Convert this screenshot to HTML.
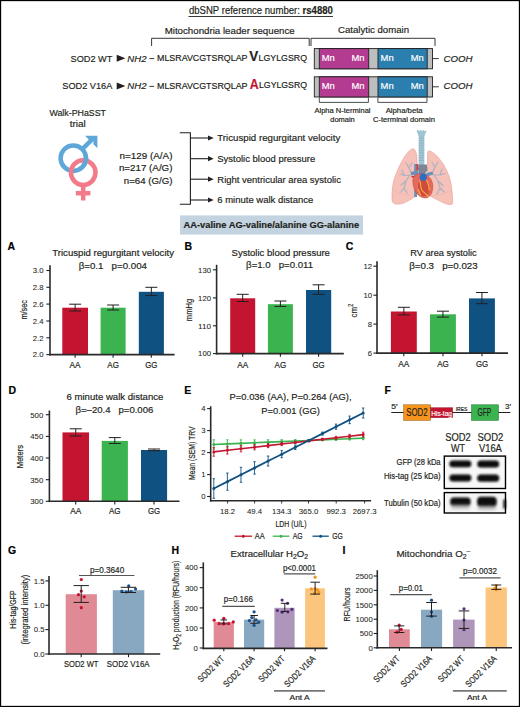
<!DOCTYPE html>
<html><head><meta charset="utf-8">
<style>
html,body{margin:0;padding:0;background:#fff;}
body{width:520px;height:707px;overflow:hidden;}
svg{display:block;font-family:"Liberation Sans",sans-serif;}
text{fill:#231f20;stroke:#231f20;stroke-width:0.18px;}
.b{font-weight:bold;}
</style></head><body>
<svg width="520" height="707" viewBox="0 0 520 707">
<rect x="0" y="0" width="520" height="707" fill="#fff"/>
<!-- ===== TOP: sequence ===== -->
<g id="top">
<text x="188.9" y="14.2" font-size="10" textLength="144" lengthAdjust="spacingAndGlyphs">dbSNP reference number: <tspan class="b">rs4880</tspan></text>
<line x1="188.5" y1="16.5" x2="333" y2="16.5" stroke="#231f20" stroke-width="0.9"/>
<text x="164.7" y="33.5" font-size="9.6" textLength="130" lengthAdjust="spacingAndGlyphs">Mitochondria leader sequence</text>
<text x="338" y="33.4" font-size="9.6" textLength="71" lengthAdjust="spacingAndGlyphs">Catalytic domain</text>
<path d="M151.6 46 V38.3 H309.2 V46 M311 46 V38.3 H435 V46" fill="none" stroke="#231f20" stroke-width="0.9"/>

<text x="70.6" y="61.5" font-size="9.5" textLength="41.7" lengthAdjust="spacingAndGlyphs">SOD2 WT</text>
<path d="M116.7 54.7 L125.4 58.25 L116.7 61.8Z" fill="#231f20"/>
<text x="127.3" y="61.5" font-size="9.5" font-style="italic" textLength="19.2" lengthAdjust="spacingAndGlyphs">NH2</text>
<line x1="149.4" y1="58.6" x2="154.2" y2="58.6" stroke="#231f20" stroke-width="0.9"/>
<text x="157" y="61" font-size="8.2" textLength="90.5" lengthAdjust="spacingAndGlyphs">MLSRAVCGTSRQLAP</text>
<text x="249.2" y="60.6" font-size="14" class="b" textLength="9" lengthAdjust="spacingAndGlyphs">V</text>
<text x="258.6" y="61" font-size="8.2" textLength="48.4" lengthAdjust="spacingAndGlyphs">LGYLGSRQ</text>

<text x="62.3" y="89.3" font-size="9.5" textLength="50" lengthAdjust="spacingAndGlyphs">SOD2 V16A</text>
<path d="M116.7 82.5 L125.4 86.05 L116.7 89.6Z" fill="#231f20"/>
<text x="127.3" y="89.3" font-size="9.5" font-style="italic" textLength="19.2" lengthAdjust="spacingAndGlyphs">NH2</text>
<line x1="149.4" y1="86.4" x2="154.2" y2="86.4" stroke="#231f20" stroke-width="0.9"/>
<text x="157" y="88.6" font-size="8.2" textLength="90.5" lengthAdjust="spacingAndGlyphs">MLSRAVCGTSRQLAP</text>
<text x="249.7" y="88.6" font-size="14" class="b" style="fill:#c41530;stroke:#c41530" textLength="9" lengthAdjust="spacingAndGlyphs">A</text>
<text x="259" y="88.4" font-size="8.2" textLength="48" lengthAdjust="spacingAndGlyphs">LGYLGSRQ</text>

<!-- domain boxes -->
<g id="dom1">
<rect x="314.3" y="48.6" width="118.2" height="20.2" fill="#bcbec0" stroke="#231f20" stroke-width="0.9"/>
<rect x="319.3" y="48.6" width="49.4" height="20.2" fill="#b43c90" stroke="#231f20" stroke-width="0.9"/>
<rect x="378" y="48.6" width="49.2" height="20.2" fill="#2a7fae" stroke="#231f20" stroke-width="0.9"/>
<text x="321.7" y="61.3" font-size="9.4" style="fill:#fff;stroke:#fff">Mn</text>
<text x="351.5" y="61.3" font-size="9.4" style="fill:#fff;stroke:#fff">Mn</text>
<text x="380.6" y="61.3" font-size="9.4" style="fill:#fff;stroke:#fff">Mn</text>
<text x="410.8" y="61.3" font-size="9.4" style="fill:#fff;stroke:#fff">Mn</text>
</g>
<use href="#dom1" y="28.2"/>
<line x1="432.5" y1="58.6" x2="438.8" y2="58.6" stroke="#231f20" stroke-width="0.9"/>
<line x1="432.5" y1="86.8" x2="438.8" y2="86.8" stroke="#231f20" stroke-width="0.9"/>
<text x="443.6" y="61.7" font-size="9.5" font-style="italic" textLength="29" lengthAdjust="spacingAndGlyphs">COOH</text>
<text x="443.6" y="89.3" font-size="9.5" font-style="italic" textLength="29" lengthAdjust="spacingAndGlyphs">COOH</text>
<path d="M319.3 98 V102.4 H368.4 V98 M377.9 98 V102.4 H427 V98" fill="none" stroke="#231f20" stroke-width="0.8"/>
<text x="314.50" y="113.2" font-size="7" textLength="56" lengthAdjust="spacingAndGlyphs">Alpha N-terminal</text>
<text x="330.25" y="121.6" font-size="7" textLength="24.5" lengthAdjust="spacingAndGlyphs">domain</text>
<text x="385.70" y="113.2" font-size="7" textLength="37" lengthAdjust="spacingAndGlyphs">Alpha/beta</text>
<text x="373.00" y="121.6" font-size="7" textLength="62" lengthAdjust="spacingAndGlyphs">C-terminal domain</text>
</g>
<!-- ===== MIDDLE: trial ===== -->
<g id="mid">
<text x="49.45" y="115.6" font-size="9.5" textLength="56.5" lengthAdjust="spacingAndGlyphs">Walk-PHaSST</text>
<text x="69.80" y="126.8" font-size="9.5" textLength="16" lengthAdjust="spacingAndGlyphs">trial</text>
<!-- male -->
<g stroke="#5ea7d8" fill="none" stroke-width="4.5">
<circle cx="73.3" cy="158.2" r="12.7"/>
<line x1="82.3" y1="149.2" x2="94" y2="137.5"/>
</g>
<path d="M85 135.8 H97.4 V148.2 L93.4 144.2 L93.4 139.8 L89 139.8Z" fill="#5ea7d8"/>
<!-- female -->
<g stroke="#f27a89" fill="none" stroke-width="4.5">
<circle cx="83.2" cy="172.6" r="12.3"/>
<line x1="83.2" y1="185" x2="83.2" y2="200.5"/>
<line x1="75.8" y1="193.2" x2="90.4" y2="193.2"/>
</g>
<path d="M85.88 156.43 A12.7 12.7 0 0 1 84.07 164.93" fill="none" stroke="#5ea7d8" stroke-width="4.5"/>
<text font-size="9">
<tspan x="119.50" y="158.7" textLength="53" lengthAdjust="spacingAndGlyphs">n=129 (A/A)</tspan>
<tspan x="118.90" y="171.4" textLength="53.6" lengthAdjust="spacingAndGlyphs">n=217 (A/G)</tspan>
<tspan x="123.80" y="183.9" textLength="48.7" lengthAdjust="spacingAndGlyphs">n=64 (G/G)</tspan>
</text>
<path d="M179.8 132.7 H190.4 V204.2 H179.8" fill="none" stroke="#231f20" stroke-width="1.1"/>
<g stroke="#231f20" stroke-width="1.1">
<line x1="190.4" y1="138" x2="209" y2="138"/>
<line x1="190.4" y1="158.7" x2="209" y2="158.7"/>
<line x1="190.4" y1="179.2" x2="209" y2="179.2"/>
<line x1="190.4" y1="200" x2="209" y2="200"/>
</g>
<g fill="#231f20">
<path d="M208 135.4 L213.7 138 L208 140.6Z"/>
<path d="M208 156.1 L213.7 158.7 L208 161.3Z"/>
<path d="M208 176.6 L213.7 179.2 L208 181.8Z"/>
<path d="M208 197.4 L213.7 200 L208 202.6Z"/>
</g>
<text font-size="9.5">
<tspan x="217.3" y="141.3" textLength="123" lengthAdjust="spacingAndGlyphs">Tricuspid regurgitant velocity</tspan>
<tspan x="217.3" y="162" textLength="98" lengthAdjust="spacingAndGlyphs">Systolic blood pressure</tspan>
<tspan x="217.3" y="182.5" textLength="123.6" lengthAdjust="spacingAndGlyphs">Right ventricular area systolic</tspan>
<tspan x="217.3" y="202.5" textLength="96" lengthAdjust="spacingAndGlyphs">6 minute walk distance</tspan>
</text>
<rect x="180" y="215.4" width="183" height="19.2" fill="#c3d4e0"/>
<text x="183.5" y="228.2" font-size="9" class="b" textLength="175.7" lengthAdjust="spacingAndGlyphs">AA-valine AG-valine/alanine GG-alanine</text>
</g>

<!-- lungs -->
<g id="lungs">
<path d="M412.2 148.9 C409 150 404.5 156 400.5 164 C396.5 172 393.3 180 392.6 187 C392 193 391.8 198 392.2 201 C393 204 397 204.6 401 203.8 C405.5 202.8 410 200 414.9 196.6 L417 194 L417 160 C417 154 415.5 148.2 412.2 148.9Z" fill="#f5c1b8" stroke="#e8a39b" stroke-width="0.7"/>
<path d="M428.4 150.9 C432 150.5 438 156 443.5 164.5 C448 172 450.8 180 451.6 188 C452.4 195 452.8 200 452.5 203.5 C451.5 205.5 447 204.5 443 202.5 C438.5 200.5 434 198 431 196.6 L427.6 194 L427.6 160 C427.6 155 427.5 151 428.4 150.9Z" fill="#f5c1b8" stroke="#e8a39b" stroke-width="0.7"/>
<path d="M393 190 C398 193 404 195 410 195.5 M451.5 190 C446 193 440 195 434 195.5" stroke="#eab0a8" stroke-width="0.5" fill="none"/>
<g stroke="#aab3c3" stroke-width="1.2" fill="none" stroke-linecap="round" stroke-linejoin="round">
<path d="M416 173 L410 175 L404 175.5 L400 174 M410 175 L406 181 L401 185 M406 181 L404 188 L401 192 M404 188 L407 193 M412 174 L409 168 L406 163 M409 168 L412 163 M404 175.5 L402 170"/>
<path d="M428.5 173 L434 175 L440 175 L445 173.5 M434 175 L438 181 L443 185.5 M438 181 L440 188 L444 192 M440 188 L437 194 M432 174 L435 167 L438 162 M435 167 L432 162.5 M440 175 L442 169"/>
</g>
<path d="M416.5 130.7 L418 129.8 L419 131.2 L420.6 129.8 L422 131.2 L423.4 129.8 L425 131.2 L426.8 130.2 L424.4 136 L418.7 136Z" fill="#9fc4d2"/>
<rect x="418.7" y="134" width="5.6" height="33" fill="#9fc4d2"/>
<g stroke="#86afc0" stroke-width="0.6">
<line x1="418.7" y1="138" x2="424.3" y2="138"/><line x1="418.7" y1="140.5" x2="424.3" y2="140.5"/><line x1="418.7" y1="143" x2="424.3" y2="143"/>
<line x1="418.7" y1="145.5" x2="424.3" y2="145.5"/><line x1="418.7" y1="148" x2="424.3" y2="148"/><line x1="418.7" y1="150.5" x2="424.3" y2="150.5"/>
<line x1="418.7" y1="153" x2="424.3" y2="153"/><line x1="418.7" y1="155.5" x2="424.3" y2="155.5"/><line x1="418.7" y1="158" x2="424.3" y2="158"/><line x1="418.7" y1="160.5" x2="424.3" y2="160.5"/>
</g>
<rect x="414.2" y="164" width="2.8" height="33" fill="#6e8fb8"/>
<path d="M418.5 164.5 L426.8 164.5 L427.5 170 L425 174.5 L419 174.5 L418 169Z" fill="#7d8594"/>
<path d="M410.5 172 L418 170.5 L419 174 L411.5 175.5Z" fill="#6e8fb8"/>
<path d="M425.5 173.5 L432.5 171.5 L433 174.5 L427 176.5Z" fill="#6e8fb8"/>
<rect x="416.6" y="164" width="1.6" height="6.5" fill="#d8353a"/>
<rect x="411.5" y="176" width="3" height="1.6" fill="#d8353a"/>
<path d="M413 183 C412 177 415.5 173.5 420 174 C425 173.5 431.5 176.5 432.6 184 C433.5 190 431 197.8 426 198 C420 198.3 414 193 413 183Z" fill="#e36a5c" stroke="#c43d33" stroke-width="0.5"/>
<path d="M418 186 C418 181 421 179.5 425 180.5 C429 181.5 430.5 186.5 429.5 191 C428.5 195 425.5 196.8 422.5 196 C419.5 195 418 191 418 186Z" fill="#d24a3e"/>
<path d="M419.5 180.5 C421.5 184 420 188 422 190.5 C424 193 427 194 428.5 197 M426.5 180 C428 184 430 186.5 429 190.5 M418 189 C419.5 191 419 193.5 421 195" stroke="#f0b43c" stroke-width="1.1" fill="none"/>
<ellipse cx="423.3" cy="177.3" rx="3.6" ry="3.8" fill="#2f6dc2"/>
</g>
<!--CHARTS-->
<text x="7.6" y="250.3" font-size="10.5" font-weight="bold" style="fill:#000;stroke:#000">A</text>
<text x="52.3" y="255.6" font-size="9.2" textLength="121.7" lengthAdjust="spacingAndGlyphs">Tricuspid regurgitant velocity</text>
<text x="78.7" y="268.6" font-size="9.2" textLength="68.3" lengthAdjust="spacingAndGlyphs">β=0.1 &#160; p=0.004</text>
<line x1="50" y1="265.3" x2="50" y2="355.40000000000003" stroke="#2a2a2a" stroke-width="1.6"/>
<line x1="46.4" y1="270.5" x2="50" y2="270.5" stroke="#231f20" stroke-width="1.1"/>
<text x="32.8" y="273.3" font-size="8.0" textLength="10.8" lengthAdjust="spacingAndGlyphs" style="stroke-width:0.06px">3.0</text>
<line x1="46.4" y1="287.3" x2="50" y2="287.3" stroke="#231f20" stroke-width="1.1"/>
<text x="32.8" y="290.1" font-size="8.0" textLength="10.8" lengthAdjust="spacingAndGlyphs" style="stroke-width:0.06px">2.8</text>
<line x1="46.4" y1="304.1" x2="50" y2="304.1" stroke="#231f20" stroke-width="1.1"/>
<text x="32.8" y="306.90000000000003" font-size="8.0" textLength="10.8" lengthAdjust="spacingAndGlyphs" style="stroke-width:0.06px">2.6</text>
<line x1="46.4" y1="321.0" x2="50" y2="321.0" stroke="#231f20" stroke-width="1.1"/>
<text x="32.8" y="323.8" font-size="8.0" textLength="10.8" lengthAdjust="spacingAndGlyphs" style="stroke-width:0.06px">2.4</text>
<line x1="46.4" y1="337.8" x2="50" y2="337.8" stroke="#231f20" stroke-width="1.1"/>
<text x="32.8" y="340.6" font-size="8.0" textLength="10.8" lengthAdjust="spacingAndGlyphs" style="stroke-width:0.06px">2.2</text>
<line x1="46.4" y1="354.6" x2="50" y2="354.6" stroke="#231f20" stroke-width="1.1"/>
<text x="32.8" y="357.40000000000003" font-size="8.0" textLength="10.8" lengthAdjust="spacingAndGlyphs" style="stroke-width:0.06px">2.0</text>
<rect x="62.30" y="307.70" width="25.70" height="46.90" fill="#c41530"/>
<line x1="75.15" y1="304.2" x2="75.15" y2="311" stroke="#231f20" stroke-width="1.0"/>
<line x1="69.15" y1="304.2" x2="81.15" y2="304.2" stroke="#231f20" stroke-width="1.0"/>
<line x1="69.15" y1="311" x2="81.15" y2="311" stroke="#231f20" stroke-width="1.0"/>
<rect x="100.60" y="307.70" width="25.00" height="46.90" fill="#3bb44f"/>
<line x1="113.1" y1="305" x2="113.1" y2="310" stroke="#231f20" stroke-width="1.0"/>
<line x1="107.1" y1="305" x2="119.1" y2="305" stroke="#231f20" stroke-width="1.0"/>
<line x1="107.1" y1="310" x2="119.1" y2="310" stroke="#231f20" stroke-width="1.0"/>
<rect x="138.80" y="291.80" width="25.10" height="62.80" fill="#0f5282"/>
<line x1="151.35000000000002" y1="287.3" x2="151.35000000000002" y2="295.6" stroke="#231f20" stroke-width="1.0"/>
<line x1="145.35000000000002" y1="287.3" x2="157.35000000000002" y2="287.3" stroke="#231f20" stroke-width="1.0"/>
<line x1="145.35000000000002" y1="295.6" x2="157.35000000000002" y2="295.6" stroke="#231f20" stroke-width="1.0"/>
<line x1="49.2" y1="354.6" x2="174.6" y2="354.6" stroke="#2a2a2a" stroke-width="1.6"/>
<line x1="75.1" y1="354.6" x2="75.1" y2="357.8" stroke="#231f20" stroke-width="1.1"/>
<text x="69.6" y="367.6" font-size="8.5" textLength="11" lengthAdjust="spacingAndGlyphs">AA</text>
<line x1="113.1" y1="354.6" x2="113.1" y2="357.8" stroke="#231f20" stroke-width="1.1"/>
<text x="107.3" y="367.6" font-size="8.5" textLength="11.6" lengthAdjust="spacingAndGlyphs">AG</text>
<line x1="151.3" y1="354.6" x2="151.3" y2="357.8" stroke="#231f20" stroke-width="1.1"/>
<text x="145.2" y="367.6" font-size="8.5" textLength="12.2" lengthAdjust="spacingAndGlyphs">GG</text>
<text x="17.6" y="309.8" font-size="9.6" textLength="19.6" lengthAdjust="spacingAndGlyphs" transform="rotate(-90 27.4 309.8)">m/sec</text>
<text x="184.5" y="250.3" font-size="10.5" font-weight="bold" style="fill:#000;stroke:#000">B</text>
<text x="231.6" y="256" font-size="9.2" textLength="98.3" lengthAdjust="spacingAndGlyphs">Systolic blood pressure</text>
<text x="246.1" y="268.2" font-size="9.2" textLength="67" lengthAdjust="spacingAndGlyphs">β=1.0 &#160; p=0.011</text>
<line x1="216.6" y1="264.8" x2="216.6" y2="354.40000000000003" stroke="#2a2a2a" stroke-width="1.6"/>
<line x1="213.0" y1="269.8" x2="216.6" y2="269.8" stroke="#231f20" stroke-width="1.1"/>
<text x="198.1" y="272.6" font-size="8.0" textLength="12.9" lengthAdjust="spacingAndGlyphs" style="stroke-width:0.06px">130</text>
<line x1="213.0" y1="297.9" x2="216.6" y2="297.9" stroke="#231f20" stroke-width="1.1"/>
<text x="198.1" y="300.7" font-size="8.0" textLength="12.9" lengthAdjust="spacingAndGlyphs" style="stroke-width:0.06px">120</text>
<line x1="213.0" y1="325.8" x2="216.6" y2="325.8" stroke="#231f20" stroke-width="1.1"/>
<text x="198.1" y="328.6" font-size="8.0" textLength="12.9" lengthAdjust="spacingAndGlyphs" style="stroke-width:0.06px">110</text>
<line x1="213.0" y1="353.6" x2="216.6" y2="353.6" stroke="#231f20" stroke-width="1.1"/>
<text x="198.1" y="356.40000000000003" font-size="8.0" textLength="12.9" lengthAdjust="spacingAndGlyphs" style="stroke-width:0.06px">100</text>
<rect x="230.20" y="298.30" width="25.00" height="55.30" fill="#c41530"/>
<line x1="242.7" y1="294.3" x2="242.7" y2="301.5" stroke="#231f20" stroke-width="1.0"/>
<line x1="236.7" y1="294.3" x2="248.7" y2="294.3" stroke="#231f20" stroke-width="1.0"/>
<line x1="236.7" y1="301.5" x2="248.7" y2="301.5" stroke="#231f20" stroke-width="1.0"/>
<rect x="267.90" y="304.20" width="25.00" height="49.40" fill="#3bb44f"/>
<line x1="280.4" y1="301.0" x2="280.4" y2="306.4" stroke="#231f20" stroke-width="1.0"/>
<line x1="274.4" y1="301.0" x2="286.4" y2="301.0" stroke="#231f20" stroke-width="1.0"/>
<line x1="274.4" y1="306.4" x2="286.4" y2="306.4" stroke="#231f20" stroke-width="1.0"/>
<rect x="306.00" y="290.00" width="25.20" height="63.60" fill="#0f5282"/>
<line x1="318.6" y1="284.8" x2="318.6" y2="294.3" stroke="#231f20" stroke-width="1.0"/>
<line x1="312.6" y1="284.8" x2="324.6" y2="284.8" stroke="#231f20" stroke-width="1.0"/>
<line x1="312.6" y1="294.3" x2="324.6" y2="294.3" stroke="#231f20" stroke-width="1.0"/>
<line x1="215.79999999999998" y1="353.6" x2="343.8" y2="353.6" stroke="#2a2a2a" stroke-width="1.6"/>
<line x1="242.7" y1="353.6" x2="242.7" y2="356.8" stroke="#231f20" stroke-width="1.1"/>
<text x="237.2" y="367.6" font-size="8.5" textLength="11" lengthAdjust="spacingAndGlyphs">AA</text>
<line x1="280.4" y1="353.6" x2="280.4" y2="356.8" stroke="#231f20" stroke-width="1.1"/>
<text x="274.6" y="367.6" font-size="8.5" textLength="11.6" lengthAdjust="spacingAndGlyphs">AG</text>
<line x1="318.6" y1="353.6" x2="318.6" y2="356.8" stroke="#231f20" stroke-width="1.1"/>
<text x="312.5" y="367.6" font-size="8.5" textLength="12.2" lengthAdjust="spacingAndGlyphs">GG</text>
<text x="181.1" y="310" font-size="9.6" textLength="22.4" lengthAdjust="spacingAndGlyphs" transform="rotate(-90 192.3 310)">mmHg</text>
<text x="345.8" y="250.3" font-size="10.5" font-weight="bold" style="fill:#000;stroke:#000">C</text>
<text x="410.3" y="256" font-size="9.2" textLength="66.4" lengthAdjust="spacingAndGlyphs">RV area systolic</text>
<text x="409.2" y="268.8" font-size="9.2" textLength="68.5" lengthAdjust="spacingAndGlyphs">β=0.3 &#160; p=0.023</text>
<line x1="377" y1="261.3" x2="377" y2="353.90000000000003" stroke="#2a2a2a" stroke-width="1.6"/>
<line x1="373.4" y1="266.2" x2="377" y2="266.2" stroke="#231f20" stroke-width="1.1"/>
<text x="363.4" y="269.0" font-size="8.0" textLength="8.6" lengthAdjust="spacingAndGlyphs" style="stroke-width:0.06px">12</text>
<line x1="373.4" y1="295.2" x2="377" y2="295.2" stroke="#231f20" stroke-width="1.1"/>
<text x="363.4" y="298.0" font-size="8.0" textLength="8.6" lengthAdjust="spacingAndGlyphs" style="stroke-width:0.06px">10</text>
<line x1="373.4" y1="324.1" x2="377" y2="324.1" stroke="#231f20" stroke-width="1.1"/>
<text x="367.7" y="326.90000000000003" font-size="8.0" textLength="4.3" lengthAdjust="spacingAndGlyphs" style="stroke-width:0.06px">8</text>
<line x1="373.4" y1="353.1" x2="377" y2="353.1" stroke="#231f20" stroke-width="1.1"/>
<text x="367.7" y="355.90000000000003" font-size="8.0" textLength="4.3" lengthAdjust="spacingAndGlyphs" style="stroke-width:0.06px">6</text>
<rect x="390.90" y="311.50" width="25.90" height="41.60" fill="#c41530"/>
<line x1="403.85" y1="307.3" x2="403.85" y2="314.9" stroke="#231f20" stroke-width="1.0"/>
<line x1="397.85" y1="307.3" x2="409.85" y2="307.3" stroke="#231f20" stroke-width="1.0"/>
<line x1="397.85" y1="314.9" x2="409.85" y2="314.9" stroke="#231f20" stroke-width="1.0"/>
<rect x="430.00" y="314.30" width="25.90" height="38.80" fill="#3bb44f"/>
<line x1="442.95" y1="311.2" x2="442.95" y2="317.1" stroke="#231f20" stroke-width="1.0"/>
<line x1="436.95" y1="311.2" x2="448.95" y2="311.2" stroke="#231f20" stroke-width="1.0"/>
<line x1="436.95" y1="317.1" x2="448.95" y2="317.1" stroke="#231f20" stroke-width="1.0"/>
<rect x="469.00" y="298.40" width="25.90" height="54.70" fill="#0f5282"/>
<line x1="481.95" y1="292.5" x2="481.95" y2="303.7" stroke="#231f20" stroke-width="1.0"/>
<line x1="475.95" y1="292.5" x2="487.95" y2="292.5" stroke="#231f20" stroke-width="1.0"/>
<line x1="475.95" y1="303.7" x2="487.95" y2="303.7" stroke="#231f20" stroke-width="1.0"/>
<line x1="376.2" y1="353.1" x2="508" y2="353.1" stroke="#2a2a2a" stroke-width="1.6"/>
<line x1="403.8" y1="353.1" x2="403.8" y2="356.3" stroke="#231f20" stroke-width="1.1"/>
<text x="398.3" y="367.3" font-size="8.5" textLength="11" lengthAdjust="spacingAndGlyphs">AA</text>
<line x1="443" y1="353.1" x2="443" y2="356.3" stroke="#231f20" stroke-width="1.1"/>
<text x="437.2" y="367.3" font-size="8.5" textLength="11.6" lengthAdjust="spacingAndGlyphs">AG</text>
<line x1="482" y1="353.1" x2="482" y2="356.3" stroke="#231f20" stroke-width="1.1"/>
<text x="475.9" y="367.3" font-size="8.5" textLength="12.2" lengthAdjust="spacingAndGlyphs">GG</text>
<text x="350.4" y="310.6" font-size="9.6" textLength="13.6" lengthAdjust="spacingAndGlyphs" transform="rotate(-90 357.2 310.6)">cm<tspan font-size="6.5" dy="-4.5">2</tspan></text>
<text x="8.5" y="394.2" font-size="10.5" font-weight="bold" style="fill:#000;stroke:#000">D</text>
<text x="66.5" y="400" font-size="9.2" textLength="96.9" lengthAdjust="spacingAndGlyphs">6 minute walk distance</text>
<text x="75.5" y="413" font-size="9.2" textLength="77.8" lengthAdjust="spacingAndGlyphs">β=–20.4 &#160; p=0.006</text>
<line x1="49.4" y1="410.5" x2="49.4" y2="502.1" stroke="#2a2a2a" stroke-width="1.6"/>
<line x1="45.8" y1="414.7" x2="49.4" y2="414.7" stroke="#231f20" stroke-width="1.1"/>
<text x="30.3" y="417.5" font-size="8.0" textLength="12.9" lengthAdjust="spacingAndGlyphs" style="stroke-width:0.06px">500</text>
<line x1="45.8" y1="436.4" x2="49.4" y2="436.4" stroke="#231f20" stroke-width="1.1"/>
<text x="30.3" y="439.2" font-size="8.0" textLength="12.9" lengthAdjust="spacingAndGlyphs" style="stroke-width:0.06px">450</text>
<line x1="45.8" y1="458.0" x2="49.4" y2="458.0" stroke="#231f20" stroke-width="1.1"/>
<text x="30.3" y="460.8" font-size="8.0" textLength="12.9" lengthAdjust="spacingAndGlyphs" style="stroke-width:0.06px">400</text>
<line x1="45.8" y1="479.7" x2="49.4" y2="479.7" stroke="#231f20" stroke-width="1.1"/>
<text x="30.3" y="482.5" font-size="8.0" textLength="12.9" lengthAdjust="spacingAndGlyphs" style="stroke-width:0.06px">350</text>
<line x1="45.8" y1="501.3" x2="49.4" y2="501.3" stroke="#231f20" stroke-width="1.1"/>
<text x="30.3" y="504.1" font-size="8.0" textLength="12.9" lengthAdjust="spacingAndGlyphs" style="stroke-width:0.06px">300</text>
<rect x="62.50" y="432.40" width="26.50" height="68.90" fill="#c41530"/>
<line x1="75.75" y1="428.8" x2="75.75" y2="436" stroke="#231f20" stroke-width="1.0"/>
<line x1="69.75" y1="428.8" x2="81.75" y2="428.8" stroke="#231f20" stroke-width="1.0"/>
<line x1="69.75" y1="436" x2="81.75" y2="436" stroke="#231f20" stroke-width="1.0"/>
<rect x="101.70" y="440.90" width="26.20" height="60.40" fill="#3bb44f"/>
<line x1="114.80000000000001" y1="437.6" x2="114.80000000000001" y2="443.5" stroke="#231f20" stroke-width="1.0"/>
<line x1="108.80000000000001" y1="437.6" x2="120.80000000000001" y2="437.6" stroke="#231f20" stroke-width="1.0"/>
<line x1="108.80000000000001" y1="443.5" x2="120.80000000000001" y2="443.5" stroke="#231f20" stroke-width="1.0"/>
<rect x="141.00" y="450.00" width="26.10" height="51.30" fill="#0f5282"/>
<line x1="154.05" y1="449" x2="154.05" y2="450.7" stroke="#231f20" stroke-width="1.0"/>
<line x1="148.05" y1="449" x2="160.05" y2="449" stroke="#231f20" stroke-width="1.0"/>
<line x1="148.05" y1="450.7" x2="160.05" y2="450.7" stroke="#231f20" stroke-width="1.0"/>
<line x1="48.6" y1="501.3" x2="179.5" y2="501.3" stroke="#2a2a2a" stroke-width="1.6"/>
<line x1="75.7" y1="501.3" x2="75.7" y2="504.5" stroke="#231f20" stroke-width="1.1"/>
<text x="70.2" y="513.8" font-size="8.5" textLength="11" lengthAdjust="spacingAndGlyphs">AA</text>
<line x1="114.8" y1="501.3" x2="114.8" y2="504.5" stroke="#231f20" stroke-width="1.1"/>
<text x="109.0" y="513.8" font-size="8.5" textLength="11.6" lengthAdjust="spacingAndGlyphs">AG</text>
<line x1="154" y1="501.3" x2="154" y2="504.5" stroke="#231f20" stroke-width="1.1"/>
<text x="147.9" y="513.8" font-size="8.5" textLength="12.2" lengthAdjust="spacingAndGlyphs">GG</text>
<text x="11.55" y="456.6" font-size="9.6" textLength="23.1" lengthAdjust="spacingAndGlyphs" transform="rotate(-90 23.1 456.6)">Meters</text>
<g id="E">
<text x="184.3" y="393.9" font-size="10.5" font-weight="bold" style="fill:#000;stroke:#000">E</text>
<text x="229.6" y="400.1" font-size="9.2" textLength="122" lengthAdjust="spacingAndGlyphs">P=0.036 (AA), P=0.264 (AG),</text>
<text x="261.3" y="414.3" font-size="9.2" textLength="58.6" lengthAdjust="spacingAndGlyphs">P=0.001 (GG)</text>
<line x1="210.7" y1="406.3" x2="210.7" y2="501.5" stroke="#2a2a2a" stroke-width="1.6"/>
<line x1="207.1" y1="408.6" x2="210.7" y2="408.6" stroke="#231f20" stroke-width="1.1"/>
<text x="201.3" y="411.40000000000003" font-size="8.0" textLength="4.3" lengthAdjust="spacingAndGlyphs" style="stroke-width:0.06px">4</text>
<line x1="207.1" y1="430.6" x2="210.7" y2="430.6" stroke="#231f20" stroke-width="1.1"/>
<text x="201.3" y="433.40000000000003" font-size="8.0" textLength="4.3" lengthAdjust="spacingAndGlyphs" style="stroke-width:0.06px">3</text>
<line x1="207.1" y1="452.6" x2="210.7" y2="452.6" stroke="#231f20" stroke-width="1.1"/>
<text x="201.3" y="455.40000000000003" font-size="8.0" textLength="4.3" lengthAdjust="spacingAndGlyphs" style="stroke-width:0.06px">2</text>
<line x1="207.1" y1="474.6" x2="210.7" y2="474.6" stroke="#231f20" stroke-width="1.1"/>
<text x="201.3" y="477.40000000000003" font-size="8.0" textLength="4.3" lengthAdjust="spacingAndGlyphs" style="stroke-width:0.06px">1</text>
<line x1="207.1" y1="496.5" x2="210.7" y2="496.5" stroke="#231f20" stroke-width="1.1"/>
<text x="201.3" y="499.3" font-size="8.0" textLength="4.3" lengthAdjust="spacingAndGlyphs" style="stroke-width:0.06px">0</text>
<line x1="209.89999999999998" y1="500.7" x2="371.1" y2="500.7" stroke="#2a2a2a" stroke-width="1.6"/>
<line x1="227.6" y1="500.7" x2="227.6" y2="503.5" stroke="#231f20" stroke-width="0.9"/>
<text x="220.05" y="513.9" font-size="8.0" textLength="15.1" lengthAdjust="spacingAndGlyphs" style="stroke-width:0.06px">18.2</text>
<line x1="254.6" y1="500.7" x2="254.6" y2="503.5" stroke="#231f20" stroke-width="0.9"/>
<text x="247.05" y="513.9" font-size="8.0" textLength="15.1" lengthAdjust="spacingAndGlyphs" style="stroke-width:0.06px">49.4</text>
<line x1="281.7" y1="500.7" x2="281.7" y2="503.5" stroke="#231f20" stroke-width="0.9"/>
<text x="272.0" y="513.9" font-size="8.0" textLength="19.4" lengthAdjust="spacingAndGlyphs" style="stroke-width:0.06px">134.3</text>
<line x1="308.5" y1="500.7" x2="308.5" y2="503.5" stroke="#231f20" stroke-width="0.9"/>
<text x="298.8" y="513.9" font-size="8.0" textLength="19.4" lengthAdjust="spacingAndGlyphs" style="stroke-width:0.06px">365.0</text>
<line x1="336.2" y1="500.7" x2="336.2" y2="503.5" stroke="#231f20" stroke-width="0.9"/>
<text x="326.5" y="513.9" font-size="8.0" textLength="19.4" lengthAdjust="spacingAndGlyphs" style="stroke-width:0.06px">992.3</text>
<line x1="364.6" y1="500.7" x2="364.6" y2="503.5" stroke="#231f20" stroke-width="0.9"/>
<text x="352.75" y="513.9" font-size="8.0" textLength="23.7" lengthAdjust="spacingAndGlyphs" style="stroke-width:0.06px">2697.3</text>
<text x="275.5" y="526.6" font-size="8.8" textLength="31" lengthAdjust="spacingAndGlyphs">LDH (U/L)</text>
<text x="168.15" y="453.2" font-size="9.8" textLength="53.5" lengthAdjust="spacingAndGlyphs" transform="rotate(-90 194.9 453.2)">Mean (SEM) TRV</text>
<polyline points="213.80,444.50 227.38,443.92 240.96,443.34 254.54,442.75 268.12,442.17 281.70,441.59 295.28,441.01 308.86,440.43 322.44,439.85 336.02,439.26 349.60,438.68 363.18,438.10" fill="none" stroke="#3bb44f" stroke-width="1.6"/>
<line x1="213.8" y1="439.8" x2="213.8" y2="449.2" stroke="#3bb44f" stroke-width="0.9"/>
<line x1="212.60000000000002" y1="439.8" x2="215.0" y2="439.8" stroke="#3bb44f" stroke-width="0.9"/>
<line x1="212.60000000000002" y1="449.2" x2="215.0" y2="449.2" stroke="#3bb44f" stroke-width="0.9"/>
<circle cx="213.80" cy="444.50" r="1.5" fill="#3bb44f"/>
<line x1="227.38000000000002" y1="439.8181818181818" x2="227.38000000000002" y2="448.01818181818186" stroke="#3bb44f" stroke-width="0.9"/>
<line x1="226.18000000000004" y1="439.8181818181818" x2="228.58" y2="439.8181818181818" stroke="#3bb44f" stroke-width="0.9"/>
<line x1="226.18000000000004" y1="448.01818181818186" x2="228.58" y2="448.01818181818186" stroke="#3bb44f" stroke-width="0.9"/>
<circle cx="227.38" cy="443.92" r="1.5" fill="#3bb44f"/>
<line x1="240.96" y1="439.8363636363636" x2="240.96" y2="446.8363636363636" stroke="#3bb44f" stroke-width="0.9"/>
<line x1="239.76000000000002" y1="439.8363636363636" x2="242.16" y2="439.8363636363636" stroke="#3bb44f" stroke-width="0.9"/>
<line x1="239.76000000000002" y1="446.8363636363636" x2="242.16" y2="446.8363636363636" stroke="#3bb44f" stroke-width="0.9"/>
<circle cx="240.96" cy="443.34" r="1.5" fill="#3bb44f"/>
<line x1="254.54000000000002" y1="439.8545454545455" x2="254.54000000000002" y2="445.6545454545454" stroke="#3bb44f" stroke-width="0.9"/>
<line x1="253.34000000000003" y1="439.8545454545455" x2="255.74" y2="439.8545454545455" stroke="#3bb44f" stroke-width="0.9"/>
<line x1="253.34000000000003" y1="445.6545454545454" x2="255.74" y2="445.6545454545454" stroke="#3bb44f" stroke-width="0.9"/>
<circle cx="254.54" cy="442.75" r="1.5" fill="#3bb44f"/>
<line x1="268.12" y1="439.7727272727273" x2="268.12" y2="444.57272727272726" stroke="#3bb44f" stroke-width="0.9"/>
<line x1="266.92" y1="439.7727272727273" x2="269.32" y2="439.7727272727273" stroke="#3bb44f" stroke-width="0.9"/>
<line x1="266.92" y1="444.57272727272726" x2="269.32" y2="444.57272727272726" stroke="#3bb44f" stroke-width="0.9"/>
<circle cx="268.12" cy="442.17" r="1.5" fill="#3bb44f"/>
<line x1="281.70000000000005" y1="439.69090909090914" x2="281.70000000000005" y2="443.4909090909091" stroke="#3bb44f" stroke-width="0.9"/>
<line x1="280.50000000000006" y1="439.69090909090914" x2="282.90000000000003" y2="439.69090909090914" stroke="#3bb44f" stroke-width="0.9"/>
<line x1="280.50000000000006" y1="443.4909090909091" x2="282.90000000000003" y2="443.4909090909091" stroke="#3bb44f" stroke-width="0.9"/>
<circle cx="281.70" cy="441.59" r="1.5" fill="#3bb44f"/>
<line x1="295.28000000000003" y1="439.6090909090909" x2="295.28000000000003" y2="442.4090909090909" stroke="#3bb44f" stroke-width="0.9"/>
<line x1="294.08000000000004" y1="439.6090909090909" x2="296.48" y2="439.6090909090909" stroke="#3bb44f" stroke-width="0.9"/>
<line x1="294.08000000000004" y1="442.4090909090909" x2="296.48" y2="442.4090909090909" stroke="#3bb44f" stroke-width="0.9"/>
<circle cx="295.28" cy="441.01" r="1.5" fill="#3bb44f"/>
<line x1="308.86" y1="439.42727272727274" x2="308.86" y2="441.42727272727274" stroke="#3bb44f" stroke-width="0.9"/>
<line x1="307.66" y1="439.42727272727274" x2="310.06" y2="439.42727272727274" stroke="#3bb44f" stroke-width="0.9"/>
<line x1="307.66" y1="441.42727272727274" x2="310.06" y2="441.42727272727274" stroke="#3bb44f" stroke-width="0.9"/>
<circle cx="308.86" cy="440.43" r="1.5" fill="#3bb44f"/>
<line x1="322.44" y1="439.04545454545456" x2="322.44" y2="440.6454545454546" stroke="#3bb44f" stroke-width="0.9"/>
<line x1="321.24" y1="439.04545454545456" x2="323.64" y2="439.04545454545456" stroke="#3bb44f" stroke-width="0.9"/>
<line x1="321.24" y1="440.6454545454546" x2="323.64" y2="440.6454545454546" stroke="#3bb44f" stroke-width="0.9"/>
<circle cx="322.44" cy="439.85" r="1.5" fill="#3bb44f"/>
<line x1="336.02" y1="438.2636363636364" x2="336.02" y2="440.2636363636364" stroke="#3bb44f" stroke-width="0.9"/>
<line x1="334.82" y1="438.2636363636364" x2="337.21999999999997" y2="438.2636363636364" stroke="#3bb44f" stroke-width="0.9"/>
<line x1="334.82" y1="440.2636363636364" x2="337.21999999999997" y2="440.2636363636364" stroke="#3bb44f" stroke-width="0.9"/>
<circle cx="336.02" cy="439.26" r="1.5" fill="#3bb44f"/>
<line x1="349.6" y1="437.3818181818182" x2="349.6" y2="439.9818181818182" stroke="#3bb44f" stroke-width="0.9"/>
<line x1="348.40000000000003" y1="437.3818181818182" x2="350.8" y2="437.3818181818182" stroke="#3bb44f" stroke-width="0.9"/>
<line x1="348.40000000000003" y1="439.9818181818182" x2="350.8" y2="439.9818181818182" stroke="#3bb44f" stroke-width="0.9"/>
<circle cx="349.60" cy="438.68" r="1.5" fill="#3bb44f"/>
<line x1="363.18" y1="436.5" x2="363.18" y2="439.70000000000005" stroke="#3bb44f" stroke-width="0.9"/>
<line x1="361.98" y1="436.5" x2="364.38" y2="436.5" stroke="#3bb44f" stroke-width="0.9"/>
<line x1="361.98" y1="439.70000000000005" x2="364.38" y2="439.70000000000005" stroke="#3bb44f" stroke-width="0.9"/>
<circle cx="363.18" cy="438.10" r="1.5" fill="#3bb44f"/>
<polyline points="213.80,451.90 227.38,450.33 240.96,448.75 254.54,447.18 268.12,445.61 281.70,444.04 295.28,442.46 308.86,440.89 322.44,439.32 336.02,437.75 349.60,436.17 363.18,434.60" fill="none" stroke="#c41530" stroke-width="1.6"/>
<line x1="213.8" y1="447.59999999999997" x2="213.8" y2="456.2" stroke="#c41530" stroke-width="0.9"/>
<line x1="212.60000000000002" y1="447.59999999999997" x2="215.0" y2="447.59999999999997" stroke="#c41530" stroke-width="0.9"/>
<line x1="212.60000000000002" y1="456.2" x2="215.0" y2="456.2" stroke="#c41530" stroke-width="0.9"/>
<circle cx="213.80" cy="451.90" r="1.5" fill="#c41530"/>
<line x1="227.38000000000002" y1="446.6272727272727" x2="227.38000000000002" y2="454.0272727272727" stroke="#c41530" stroke-width="0.9"/>
<line x1="226.18000000000004" y1="446.6272727272727" x2="228.58" y2="446.6272727272727" stroke="#c41530" stroke-width="0.9"/>
<line x1="226.18000000000004" y1="454.0272727272727" x2="228.58" y2="454.0272727272727" stroke="#c41530" stroke-width="0.9"/>
<circle cx="227.38" cy="450.33" r="1.5" fill="#c41530"/>
<line x1="240.96" y1="445.6545454545454" x2="240.96" y2="451.8545454545455" stroke="#c41530" stroke-width="0.9"/>
<line x1="239.76000000000002" y1="445.6545454545454" x2="242.16" y2="445.6545454545454" stroke="#c41530" stroke-width="0.9"/>
<line x1="239.76000000000002" y1="451.8545454545455" x2="242.16" y2="451.8545454545455" stroke="#c41530" stroke-width="0.9"/>
<circle cx="240.96" cy="448.75" r="1.5" fill="#c41530"/>
<line x1="254.54000000000002" y1="444.58181818181816" x2="254.54000000000002" y2="449.7818181818182" stroke="#c41530" stroke-width="0.9"/>
<line x1="253.34000000000003" y1="444.58181818181816" x2="255.74" y2="444.58181818181816" stroke="#c41530" stroke-width="0.9"/>
<line x1="253.34000000000003" y1="449.7818181818182" x2="255.74" y2="449.7818181818182" stroke="#c41530" stroke-width="0.9"/>
<circle cx="254.54" cy="447.18" r="1.5" fill="#c41530"/>
<line x1="268.12" y1="443.6090909090909" x2="268.12" y2="447.6090909090909" stroke="#c41530" stroke-width="0.9"/>
<line x1="266.92" y1="443.6090909090909" x2="269.32" y2="443.6090909090909" stroke="#c41530" stroke-width="0.9"/>
<line x1="266.92" y1="447.6090909090909" x2="269.32" y2="447.6090909090909" stroke="#c41530" stroke-width="0.9"/>
<circle cx="268.12" cy="445.61" r="1.5" fill="#c41530"/>
<line x1="281.70000000000005" y1="442.43636363636364" x2="281.70000000000005" y2="445.6363636363637" stroke="#c41530" stroke-width="0.9"/>
<line x1="280.50000000000006" y1="442.43636363636364" x2="282.90000000000003" y2="442.43636363636364" stroke="#c41530" stroke-width="0.9"/>
<line x1="280.50000000000006" y1="445.6363636363637" x2="282.90000000000003" y2="445.6363636363637" stroke="#c41530" stroke-width="0.9"/>
<circle cx="281.70" cy="444.04" r="1.5" fill="#c41530"/>
<line x1="295.28000000000003" y1="441.26363636363635" x2="295.28000000000003" y2="443.66363636363633" stroke="#c41530" stroke-width="0.9"/>
<line x1="294.08000000000004" y1="441.26363636363635" x2="296.48" y2="441.26363636363635" stroke="#c41530" stroke-width="0.9"/>
<line x1="294.08000000000004" y1="443.66363636363633" x2="296.48" y2="443.66363636363633" stroke="#c41530" stroke-width="0.9"/>
<circle cx="295.28" cy="442.46" r="1.5" fill="#c41530"/>
<line x1="308.86" y1="440.09090909090907" x2="308.86" y2="441.6909090909091" stroke="#c41530" stroke-width="0.9"/>
<line x1="307.66" y1="440.09090909090907" x2="310.06" y2="440.09090909090907" stroke="#c41530" stroke-width="0.9"/>
<line x1="307.66" y1="441.6909090909091" x2="310.06" y2="441.6909090909091" stroke="#c41530" stroke-width="0.9"/>
<circle cx="308.86" cy="440.89" r="1.5" fill="#c41530"/>
<line x1="322.44" y1="438.3181818181818" x2="322.44" y2="440.3181818181818" stroke="#c41530" stroke-width="0.9"/>
<line x1="321.24" y1="438.3181818181818" x2="323.64" y2="438.3181818181818" stroke="#c41530" stroke-width="0.9"/>
<line x1="321.24" y1="440.3181818181818" x2="323.64" y2="440.3181818181818" stroke="#c41530" stroke-width="0.9"/>
<circle cx="322.44" cy="439.32" r="1.5" fill="#c41530"/>
<line x1="336.02" y1="436.3454545454546" x2="336.02" y2="439.1454545454545" stroke="#c41530" stroke-width="0.9"/>
<line x1="334.82" y1="436.3454545454546" x2="337.21999999999997" y2="436.3454545454546" stroke="#c41530" stroke-width="0.9"/>
<line x1="334.82" y1="439.1454545454545" x2="337.21999999999997" y2="439.1454545454545" stroke="#c41530" stroke-width="0.9"/>
<circle cx="336.02" cy="437.75" r="1.5" fill="#c41530"/>
<line x1="349.6" y1="434.3727272727273" x2="349.6" y2="437.9727272727273" stroke="#c41530" stroke-width="0.9"/>
<line x1="348.40000000000003" y1="434.3727272727273" x2="350.8" y2="434.3727272727273" stroke="#c41530" stroke-width="0.9"/>
<line x1="348.40000000000003" y1="437.9727272727273" x2="350.8" y2="437.9727272727273" stroke="#c41530" stroke-width="0.9"/>
<circle cx="349.60" cy="436.17" r="1.5" fill="#c41530"/>
<line x1="363.18" y1="432.20000000000005" x2="363.18" y2="437.0" stroke="#c41530" stroke-width="0.9"/>
<line x1="361.98" y1="432.20000000000005" x2="364.38" y2="432.20000000000005" stroke="#c41530" stroke-width="0.9"/>
<line x1="361.98" y1="437.0" x2="364.38" y2="437.0" stroke="#c41530" stroke-width="0.9"/>
<circle cx="363.18" cy="434.60" r="1.5" fill="#c41530"/>
<polyline points="213.80,488.50 227.38,481.64 240.96,474.77 254.54,467.91 268.12,461.05 281.70,454.18 295.28,447.32 308.86,440.45 322.44,433.59 336.02,426.73 349.60,419.86 363.18,413.00" fill="none" stroke="#0f5282" stroke-width="1.8"/>
<line x1="213.8" y1="478.7" x2="213.8" y2="498.3" stroke="#0f5282" stroke-width="0.9"/>
<line x1="212.60000000000002" y1="478.7" x2="215.0" y2="478.7" stroke="#0f5282" stroke-width="0.9"/>
<line x1="212.60000000000002" y1="498.3" x2="215.0" y2="498.3" stroke="#0f5282" stroke-width="0.9"/>
<circle cx="213.80" cy="488.50" r="1.5" fill="#0f5282"/>
<line x1="227.38000000000002" y1="473.0363636363636" x2="227.38000000000002" y2="490.23636363636365" stroke="#0f5282" stroke-width="0.9"/>
<line x1="226.18000000000004" y1="473.0363636363636" x2="228.58" y2="473.0363636363636" stroke="#0f5282" stroke-width="0.9"/>
<line x1="226.18000000000004" y1="490.23636363636365" x2="228.58" y2="490.23636363636365" stroke="#0f5282" stroke-width="0.9"/>
<circle cx="227.38" cy="481.64" r="1.5" fill="#0f5282"/>
<line x1="240.96" y1="467.27272727272725" x2="240.96" y2="482.27272727272725" stroke="#0f5282" stroke-width="0.9"/>
<line x1="239.76000000000002" y1="467.27272727272725" x2="242.16" y2="467.27272727272725" stroke="#0f5282" stroke-width="0.9"/>
<line x1="239.76000000000002" y1="482.27272727272725" x2="242.16" y2="482.27272727272725" stroke="#0f5282" stroke-width="0.9"/>
<circle cx="240.96" cy="474.77" r="1.5" fill="#0f5282"/>
<line x1="254.54000000000002" y1="461.70909090909095" x2="254.54000000000002" y2="474.1090909090909" stroke="#0f5282" stroke-width="0.9"/>
<line x1="253.34000000000003" y1="461.70909090909095" x2="255.74" y2="461.70909090909095" stroke="#0f5282" stroke-width="0.9"/>
<line x1="253.34000000000003" y1="474.1090909090909" x2="255.74" y2="474.1090909090909" stroke="#0f5282" stroke-width="0.9"/>
<circle cx="254.54" cy="467.91" r="1.5" fill="#0f5282"/>
<line x1="268.12" y1="456.04545454545456" x2="268.12" y2="466.04545454545456" stroke="#0f5282" stroke-width="0.9"/>
<line x1="266.92" y1="456.04545454545456" x2="269.32" y2="456.04545454545456" stroke="#0f5282" stroke-width="0.9"/>
<line x1="266.92" y1="466.04545454545456" x2="269.32" y2="466.04545454545456" stroke="#0f5282" stroke-width="0.9"/>
<circle cx="268.12" cy="461.05" r="1.5" fill="#0f5282"/>
<line x1="281.70000000000005" y1="450.6818181818182" x2="281.70000000000005" y2="457.6818181818182" stroke="#0f5282" stroke-width="0.9"/>
<line x1="280.50000000000006" y1="450.6818181818182" x2="282.90000000000003" y2="450.6818181818182" stroke="#0f5282" stroke-width="0.9"/>
<line x1="280.50000000000006" y1="457.6818181818182" x2="282.90000000000003" y2="457.6818181818182" stroke="#0f5282" stroke-width="0.9"/>
<circle cx="281.70" cy="454.18" r="1.5" fill="#0f5282"/>
<line x1="295.28000000000003" y1="445.1181818181818" x2="295.28000000000003" y2="449.5181818181818" stroke="#0f5282" stroke-width="0.9"/>
<line x1="294.08000000000004" y1="445.1181818181818" x2="296.48" y2="445.1181818181818" stroke="#0f5282" stroke-width="0.9"/>
<line x1="294.08000000000004" y1="449.5181818181818" x2="296.48" y2="449.5181818181818" stroke="#0f5282" stroke-width="0.9"/>
<circle cx="295.28" cy="447.32" r="1.5" fill="#0f5282"/>
<line x1="308.86" y1="439.45454545454544" x2="308.86" y2="441.45454545454544" stroke="#0f5282" stroke-width="0.9"/>
<line x1="307.66" y1="439.45454545454544" x2="310.06" y2="439.45454545454544" stroke="#0f5282" stroke-width="0.9"/>
<line x1="307.66" y1="441.45454545454544" x2="310.06" y2="441.45454545454544" stroke="#0f5282" stroke-width="0.9"/>
<circle cx="308.86" cy="440.45" r="1.5" fill="#0f5282"/>
<line x1="322.44" y1="432.0909090909091" x2="322.44" y2="435.0909090909091" stroke="#0f5282" stroke-width="0.9"/>
<line x1="321.24" y1="432.0909090909091" x2="323.64" y2="432.0909090909091" stroke="#0f5282" stroke-width="0.9"/>
<line x1="321.24" y1="435.0909090909091" x2="323.64" y2="435.0909090909091" stroke="#0f5282" stroke-width="0.9"/>
<circle cx="322.44" cy="433.59" r="1.5" fill="#0f5282"/>
<line x1="336.02" y1="424.1272727272727" x2="336.02" y2="429.32727272727277" stroke="#0f5282" stroke-width="0.9"/>
<line x1="334.82" y1="424.1272727272727" x2="337.21999999999997" y2="424.1272727272727" stroke="#0f5282" stroke-width="0.9"/>
<line x1="334.82" y1="429.32727272727277" x2="337.21999999999997" y2="429.32727272727277" stroke="#0f5282" stroke-width="0.9"/>
<circle cx="336.02" cy="426.73" r="1.5" fill="#0f5282"/>
<line x1="349.6" y1="416.06363636363636" x2="349.6" y2="423.6636363636364" stroke="#0f5282" stroke-width="0.9"/>
<line x1="348.40000000000003" y1="416.06363636363636" x2="350.8" y2="416.06363636363636" stroke="#0f5282" stroke-width="0.9"/>
<line x1="348.40000000000003" y1="423.6636363636364" x2="350.8" y2="423.6636363636364" stroke="#0f5282" stroke-width="0.9"/>
<circle cx="349.60" cy="419.86" r="1.5" fill="#0f5282"/>
<line x1="363.18" y1="408.0" x2="363.18" y2="418.0" stroke="#0f5282" stroke-width="0.9"/>
<line x1="361.98" y1="408.0" x2="364.38" y2="408.0" stroke="#0f5282" stroke-width="0.9"/>
<line x1="361.98" y1="418.0" x2="364.38" y2="418.0" stroke="#0f5282" stroke-width="0.9"/>
<circle cx="363.18" cy="413.00" r="1.5" fill="#0f5282"/>
<line x1="234.6" y1="536.2" x2="252" y2="536.2" stroke="#c41530" stroke-width="1.3"/>
<circle cx="243.30" cy="536.20" r="1.5" fill="#c41530"/>
<text x="254.7" y="538.9" font-size="8.2" textLength="9.9" lengthAdjust="spacingAndGlyphs">AA</text>
<line x1="272.7" y1="536.2" x2="289.3" y2="536.2" stroke="#3bb44f" stroke-width="1.3"/>
<circle cx="281.00" cy="536.20" r="1.5" fill="#3bb44f"/>
<text x="292.8" y="538.9" font-size="8.2" textLength="9.9" lengthAdjust="spacingAndGlyphs">AG</text>
<line x1="312.5" y1="536.2" x2="328.8" y2="536.2" stroke="#0f5282" stroke-width="1.3"/>
<circle cx="320.65" cy="536.20" r="1.5" fill="#0f5282"/>
<text x="332.2" y="538.9" font-size="8.2" textLength="10.6" lengthAdjust="spacingAndGlyphs">GG</text>
</g>
<g id="F">
<text x="384.6" y="393.6" font-size="10.5" font-weight="bold" style="fill:#000;stroke:#000">F</text>
<line x1="391.3" y1="412.5" x2="510.4" y2="412.5" stroke="#231f20" stroke-width="1.0"/>
<text x="391.2" y="408.5" font-size="7.2" textLength="6.3" lengthAdjust="spacingAndGlyphs">5′</text>
<text x="505" y="408.5" font-size="7.2" textLength="5.9" lengthAdjust="spacingAndGlyphs">3′</text>
<rect x="403.7" y="404.8" width="26.9" height="15.6" fill="#f7941d" stroke="#8a5a1a" stroke-width="0.5"/>
<text x="406.25" y="416.3" font-size="10.8" textLength="21.3" lengthAdjust="spacingAndGlyphs">SOD2</text>
<rect x="430.6" y="407.7" width="22.1" height="10" fill="#c41530" stroke="#7a1020" stroke-width="0.4"/>
<text x="431.2" y="415.5" font-size="7.6" textLength="20.8" lengthAdjust="spacingAndGlyphs" style="fill:#fff;stroke:#fff">His-tag</text>
<text x="455.7" y="411" font-size="5.3" textLength="11.8" lengthAdjust="spacingAndGlyphs">IRES</text>
<rect x="471.5" y="404.8" width="27" height="15.6" fill="#3bb44f" stroke="#1d6b2a" stroke-width="0.5"/>
<text x="477.5" y="416.3" font-size="10.8" textLength="13.8" lengthAdjust="spacingAndGlyphs">GFP</text>
<text x="445.25" y="441.3" font-size="10" textLength="25.5" lengthAdjust="spacingAndGlyphs">SOD2</text>
<text x="451.0" y="452.2" font-size="10" textLength="14" lengthAdjust="spacingAndGlyphs">WT</text>
<text x="477.5" y="441.3" font-size="10" textLength="25.8" lengthAdjust="spacingAndGlyphs">SOD2</text>
<text x="478.9" y="452.2" font-size="10" textLength="23" lengthAdjust="spacingAndGlyphs">V16A</text>
<text x="396.6" y="465.3" font-size="8.2" textLength="44" lengthAdjust="spacingAndGlyphs">GFP (28 kDa</text>
<text x="384.0" y="479.2" font-size="8.2" textLength="56.6" lengthAdjust="spacingAndGlyphs">His-tag (25 kDa)</text>
<text x="384.0" y="505.6" font-size="8.2" textLength="56.6" lengthAdjust="spacingAndGlyphs">Tubulin (50 kDa)</text>
<defs><filter id="bl" x="-20%" y="-50%" width="140%" height="200%"><feGaussianBlur stdDeviation="1.0"/></filter><filter id="bl2" x="-20%" y="-50%" width="140%" height="200%"><feGaussianBlur stdDeviation="1.5"/></filter></defs>
<rect x="444.30" y="456.10" width="61.00" height="32.20" fill="#f7f7f7"/>
<rect x="444.30" y="492.70" width="61.00" height="20.00" fill="#f5f5f5"/>
<g filter="url(#bl)" fill="#0a0a0a">
<rect x="449.4" y="460.6" width="22" height="6.6" rx="3.3"/><rect x="477.2" y="460.4" width="22" height="7.2" rx="3.6"/>
<rect x="449.4" y="474.6" width="22" height="6.8" rx="3.4"/><rect x="477.2" y="474.6" width="22" height="7.2" rx="3.6"/>
<rect x="450.2" y="497.4" width="20.4" height="8.4" rx="3.5"/><rect x="477.1" y="496.8" width="19.6" height="10" rx="4"/><rect x="503.4" y="499.5" width="2.4" height="9"/>
</g>
<g filter="url(#bl2)" fill="#888" opacity="0.5"><rect x="451" y="504" width="19" height="5" rx="2"/><rect x="478" y="505" width="18" height="5" rx="2"/></g>
<rect x="444.3" y="456.1" width="61.2" height="32.4" fill="none" stroke="#000" stroke-width="1.4"/>
<rect x="444.3" y="492.6" width="61.2" height="20.4" fill="none" stroke="#000" stroke-width="1.4"/>
</g>
<g id="G">
<text x="8.0" y="554.1" font-size="10.5" font-weight="bold" style="fill:#000;stroke:#000">G</text>
<line x1="49" y1="576" x2="49" y2="654.8" stroke="#2a2a2a" stroke-width="1.6"/>
<line x1="45.4" y1="580.9" x2="49" y2="580.9" stroke="#231f20" stroke-width="1.1"/>
<text x="33.8" y="583.6999999999999" font-size="8.0" textLength="10.8" lengthAdjust="spacingAndGlyphs" style="stroke-width:0.06px">1.5</text>
<line x1="45.4" y1="605.3" x2="49" y2="605.3" stroke="#231f20" stroke-width="1.1"/>
<text x="33.8" y="608.0999999999999" font-size="8.0" textLength="10.8" lengthAdjust="spacingAndGlyphs" style="stroke-width:0.06px">1.0</text>
<line x1="45.4" y1="629.6" x2="49" y2="629.6" stroke="#231f20" stroke-width="1.1"/>
<text x="33.8" y="632.4" font-size="8.0" textLength="10.8" lengthAdjust="spacingAndGlyphs" style="stroke-width:0.06px">0.5</text>
<line x1="45.4" y1="654" x2="49" y2="654" stroke="#231f20" stroke-width="1.1"/>
<text x="33.8" y="656.8" font-size="8.0" textLength="10.8" lengthAdjust="spacingAndGlyphs" style="stroke-width:0.06px">0.0</text>
<rect x="65.70" y="594.20" width="31.20" height="59.80" fill="#e08a96"/>
<rect x="112.80" y="590.20" width="31.50" height="63.80" fill="#88a8c2"/>
<line x1="48.2" y1="654" x2="160.2" y2="654" stroke="#2a2a2a" stroke-width="1.6"/>
<circle cx="81.30" cy="579.50" r="1.6" fill="#c8102e"/>
<circle cx="81.30" cy="591.10" r="1.6" fill="#c8102e"/>
<circle cx="78.50" cy="594.70" r="1.6" fill="#c8102e"/>
<circle cx="84.20" cy="596.80" r="1.6" fill="#c8102e"/>
<circle cx="81.30" cy="607.70" r="1.6" fill="#c8102e"/>
<circle cx="128.70" cy="585.90" r="1.6" fill="#1a4f8c"/>
<circle cx="121.80" cy="591.10" r="1.6" fill="#1a4f8c"/>
<circle cx="126.30" cy="592.00" r="1.6" fill="#1a4f8c"/>
<circle cx="131.00" cy="591.60" r="1.6" fill="#1a4f8c"/>
<circle cx="135.60" cy="589.00" r="1.6" fill="#1a4f8c"/>
<line x1="81.2" y1="585.6" x2="81.2" y2="602.4" stroke="#231f20" stroke-width="1.0"/>
<line x1="73.5" y1="585.6" x2="88.9" y2="585.6" stroke="#231f20" stroke-width="1.0"/>
<line x1="73.5" y1="602.4" x2="88.9" y2="602.4" stroke="#231f20" stroke-width="1.0"/>
<line x1="128.4" y1="587.3" x2="128.4" y2="592.5" stroke="#231f20" stroke-width="1.0"/>
<line x1="120.7" y1="587.3" x2="136.1" y2="587.3" stroke="#231f20" stroke-width="1.0"/>
<line x1="120.7" y1="592.5" x2="136.1" y2="592.5" stroke="#231f20" stroke-width="1.0"/>
<line x1="79" y1="575.5" x2="134.4" y2="575.5" stroke="#555555" stroke-width="1.2"/>
<text x="89.9" y="572.7" font-size="8.5" textLength="34.3" lengthAdjust="spacingAndGlyphs">p=0.3640</text>
<line x1="81.2" y1="654" x2="81.2" y2="657.2" stroke="#231f20" stroke-width="1.1"/>
<line x1="128.5" y1="654" x2="128.5" y2="657.2" stroke="#231f20" stroke-width="1.1"/>
<text x="63.95" y="666.9" font-size="8.8" textLength="34.5" lengthAdjust="spacingAndGlyphs">SOD2 WT</text>
<text x="106.8" y="666.9" font-size="8.8" textLength="42.8" lengthAdjust="spacingAndGlyphs">SOD2 V16A</text>
<text x="-2.9" y="609.6" font-size="9.4" textLength="38.4" lengthAdjust="spacingAndGlyphs" transform="rotate(-90 16.3 609.6)">His-tag/GFP</text>
<text x="-7.4" y="609.6" font-size="9.4" textLength="70" lengthAdjust="spacingAndGlyphs" transform="rotate(-90 27.6 609.6)">(integrated intensity)</text>
</g>
<g id="H">
<text x="171.5" y="554.0" font-size="10.5" font-weight="bold" style="fill:#000;stroke:#000">H</text>
<text x="230.6" y="556.8" font-size="9.6">Extracellular H<tspan font-size="6.8" dy="2">2</tspan><tspan dy="-2">O</tspan><tspan font-size="6.8" dy="2">2</tspan></text>
<line x1="203.3" y1="562.4" x2="203.3" y2="649.1999999999999" stroke="#2a2a2a" stroke-width="1.6"/>
<line x1="199.70000000000002" y1="567.6" x2="203.3" y2="567.6" stroke="#231f20" stroke-width="1.1"/>
<text x="185.0" y="570.4" font-size="8.0" textLength="12.9" lengthAdjust="spacingAndGlyphs" style="stroke-width:0.06px">400</text>
<line x1="199.70000000000002" y1="587.7" x2="203.3" y2="587.7" stroke="#231f20" stroke-width="1.1"/>
<text x="185.0" y="590.5" font-size="8.0" textLength="12.9" lengthAdjust="spacingAndGlyphs" style="stroke-width:0.06px">300</text>
<line x1="199.70000000000002" y1="607.9" x2="203.3" y2="607.9" stroke="#231f20" stroke-width="1.1"/>
<text x="185.0" y="610.6999999999999" font-size="8.0" textLength="12.9" lengthAdjust="spacingAndGlyphs" style="stroke-width:0.06px">200</text>
<line x1="199.70000000000002" y1="628.0" x2="203.3" y2="628.0" stroke="#231f20" stroke-width="1.1"/>
<text x="185.0" y="630.8" font-size="8.0" textLength="12.9" lengthAdjust="spacingAndGlyphs" style="stroke-width:0.06px">100</text>
<line x1="199.70000000000002" y1="648" x2="203.3" y2="648" stroke="#231f20" stroke-width="1.1"/>
<text x="193.6" y="650.8" font-size="8.0" textLength="4.3" lengthAdjust="spacingAndGlyphs" style="stroke-width:0.06px">0</text>
<rect x="213.70" y="621.90" width="20.20" height="26.10" fill="#e08a96"/>
<rect x="244.00" y="619.60" width="20.20" height="28.40" fill="#88a8c2"/>
<rect x="274.40" y="607.80" width="20.20" height="40.20" fill="#ae96ba"/>
<rect x="305.10" y="588.30" width="19.80" height="59.70" fill="#fcc57d"/>
<line x1="202.5" y1="648.4" x2="327.5" y2="648.4" stroke="#2a2a2a" stroke-width="1.6"/>
<circle cx="214.20" cy="620.20" r="1.6" fill="#c8102e"/>
<circle cx="223.80" cy="618.30" r="1.6" fill="#c8102e"/>
<circle cx="219.10" cy="623.70" r="1.6" fill="#c8102e"/>
<circle cx="223.60" cy="623.90" r="1.6" fill="#c8102e"/>
<circle cx="228.60" cy="623.70" r="1.6" fill="#c8102e"/>
<circle cx="233.30" cy="621.90" r="1.6" fill="#c8102e"/>
<circle cx="254.10" cy="611.80" r="1.6" fill="#1a4f8c"/>
<circle cx="251.80" cy="617.60" r="1.6" fill="#1a4f8c"/>
<circle cx="249.40" cy="620.60" r="1.6" fill="#1a4f8c"/>
<circle cx="256.10" cy="619.90" r="1.6" fill="#1a4f8c"/>
<circle cx="258.80" cy="622.20" r="1.6" fill="#1a4f8c"/>
<circle cx="254.10" cy="625.30" r="1.6" fill="#1a4f8c"/>
<circle cx="282.10" cy="600.10" r="1.6" fill="#5b2c80"/>
<circle cx="287.60" cy="603.30" r="1.6" fill="#5b2c80"/>
<circle cx="277.40" cy="610.50" r="1.6" fill="#5b2c80"/>
<circle cx="282.10" cy="612.20" r="1.6" fill="#5b2c80"/>
<circle cx="287.90" cy="611.80" r="1.6" fill="#5b2c80"/>
<circle cx="291.90" cy="609.40" r="1.6" fill="#5b2c80"/>
<circle cx="315.10" cy="577.20" r="1.6" fill="#f7941d"/>
<circle cx="311.40" cy="588.90" r="1.6" fill="#f7941d"/>
<circle cx="315.10" cy="588.70" r="1.6" fill="#f7941d"/>
<circle cx="317.50" cy="589.90" r="1.6" fill="#f7941d"/>
<circle cx="318.80" cy="592.30" r="1.6" fill="#f7941d"/>
<circle cx="314.50" cy="593.60" r="1.6" fill="#f7941d"/>
<line x1="223.8" y1="619.9" x2="223.8" y2="623.9" stroke="#231f20" stroke-width="1.0"/>
<line x1="220.5" y1="619.9" x2="227.10000000000002" y2="619.9" stroke="#231f20" stroke-width="1.0"/>
<line x1="220.5" y1="623.9" x2="227.10000000000002" y2="623.9" stroke="#231f20" stroke-width="1.0"/>
<line x1="254.1" y1="615.5" x2="254.1" y2="623.3" stroke="#231f20" stroke-width="1.0"/>
<line x1="250.29999999999998" y1="615.5" x2="257.9" y2="615.5" stroke="#231f20" stroke-width="1.0"/>
<line x1="250.29999999999998" y1="623.3" x2="257.9" y2="623.3" stroke="#231f20" stroke-width="1.0"/>
<line x1="284.8" y1="603.3" x2="284.8" y2="611.5" stroke="#231f20" stroke-width="1.0"/>
<line x1="280.8" y1="603.3" x2="288.8" y2="603.3" stroke="#231f20" stroke-width="1.0"/>
<line x1="280.8" y1="611.5" x2="288.8" y2="611.5" stroke="#231f20" stroke-width="1.0"/>
<line x1="315.1" y1="582.2" x2="315.1" y2="594.1" stroke="#231f20" stroke-width="1.0"/>
<line x1="310.3" y1="582.2" x2="319.90000000000003" y2="582.2" stroke="#231f20" stroke-width="1.0"/>
<line x1="310.3" y1="594.1" x2="319.90000000000003" y2="594.1" stroke="#231f20" stroke-width="1.0"/>
<line x1="222.2" y1="606.4" x2="254.8" y2="606.4" stroke="#555555" stroke-width="1.2"/>
<text x="223.8" y="602.4" font-size="8.5" textLength="29.2" lengthAdjust="spacingAndGlyphs">p=0.166</text>
<line x1="283.8" y1="573.9" x2="315.1" y2="573.9" stroke="#555555" stroke-width="1.2"/>
<text x="282.9" y="570.5" font-size="8.5" textLength="33" lengthAdjust="spacingAndGlyphs">p&lt;0.0001</text>
<line x1="223.8" y1="648" x2="223.8" y2="651.2" stroke="#231f20" stroke-width="1.1"/>
<text x="191.6" y="659.4" font-size="9.0" textLength="33.2" lengthAdjust="spacingAndGlyphs" transform="rotate(-45 224.8 659.4)">SOD2 WT</text>
<line x1="254.1" y1="648" x2="254.1" y2="651.2" stroke="#231f20" stroke-width="1.1"/>
<text x="215.1" y="659.4" font-size="9.0" textLength="40" lengthAdjust="spacingAndGlyphs" transform="rotate(-45 255.1 659.4)">SOD2 V16A</text>
<line x1="284.5" y1="648" x2="284.5" y2="651.2" stroke="#231f20" stroke-width="1.1"/>
<text x="252.3" y="659.4" font-size="9.0" textLength="33.2" lengthAdjust="spacingAndGlyphs" transform="rotate(-45 285.5 659.4)">SOD2 WT</text>
<line x1="315.1" y1="648" x2="315.1" y2="651.2" stroke="#231f20" stroke-width="1.1"/>
<text x="276.1" y="659.4" font-size="9.0" textLength="40" lengthAdjust="spacingAndGlyphs" transform="rotate(-45 316.1 659.4)">SOD2 V16A</text>
<line x1="274" y1="690.9" x2="325" y2="690.9" stroke="#777" stroke-width="1.8"/>
<text x="289.5" y="699.8" font-size="7.8" textLength="20.2" lengthAdjust="spacingAndGlyphs">Ant A</text>
<text x="134.5" y="605.2" font-size="9.4" textLength="89" lengthAdjust="spacingAndGlyphs" transform="rotate(-90 179 605.2)">H<tspan font-size="6.5" dy="2">2</tspan><tspan dy="-2">O</tspan><tspan font-size="6.5" dy="2">2</tspan><tspan dy="-2"> production (RFU/hours)</tspan></text>
</g>
<g id="I">
<text x="342.5" y="554.0" font-size="10.5" font-weight="bold" style="fill:#000;stroke:#000">I</text>
<text x="396.4" y="556.8" font-size="9.8">Mitochondria O<tspan font-size="6.8" dy="2">2</tspan><tspan font-size="6.8" dy="-5.5">–</tspan></text>
<line x1="377.3" y1="570.2" x2="377.3" y2="648.5999999999999" stroke="#2a2a2a" stroke-width="1.6"/>
<line x1="373.7" y1="576" x2="377.3" y2="576" stroke="#231f20" stroke-width="1.1"/>
<text x="355.5" y="578.8" font-size="8.0" textLength="17.2" lengthAdjust="spacingAndGlyphs" style="stroke-width:0.06px">2500</text>
<line x1="373.7" y1="590.4" x2="377.3" y2="590.4" stroke="#231f20" stroke-width="1.1"/>
<text x="355.5" y="593.1999999999999" font-size="8.0" textLength="17.2" lengthAdjust="spacingAndGlyphs" style="stroke-width:0.06px">2000</text>
<line x1="373.7" y1="604.8" x2="377.3" y2="604.8" stroke="#231f20" stroke-width="1.1"/>
<text x="355.5" y="607.5999999999999" font-size="8.0" textLength="17.2" lengthAdjust="spacingAndGlyphs" style="stroke-width:0.06px">1500</text>
<line x1="373.7" y1="619.2" x2="377.3" y2="619.2" stroke="#231f20" stroke-width="1.1"/>
<text x="355.5" y="622.0" font-size="8.0" textLength="17.2" lengthAdjust="spacingAndGlyphs" style="stroke-width:0.06px">1000</text>
<line x1="373.7" y1="633.5" x2="377.3" y2="633.5" stroke="#231f20" stroke-width="1.1"/>
<text x="359.8" y="636.3" font-size="8.0" textLength="12.9" lengthAdjust="spacingAndGlyphs" style="stroke-width:0.06px">500</text>
<line x1="373.7" y1="647.8" x2="377.3" y2="647.8" stroke="#231f20" stroke-width="1.1"/>
<text x="368.4" y="650.5999999999999" font-size="8.0" textLength="4.3" lengthAdjust="spacingAndGlyphs" style="stroke-width:0.06px">0</text>
<rect x="389.00" y="629.30" width="20.80" height="18.50" fill="#e08a96"/>
<rect x="421.00" y="609.70" width="21.10" height="38.10" fill="#88a8c2"/>
<rect x="453.10" y="619.60" width="21.50" height="28.20" fill="#ae96ba"/>
<rect x="485.60" y="587.50" width="21.30" height="60.30" fill="#fcc57d"/>
<line x1="376.5" y1="647.8" x2="512" y2="647.8" stroke="#2a2a2a" stroke-width="1.6"/>
<circle cx="399.20" cy="625.20" r="1.6" fill="#c8102e"/>
<circle cx="401.20" cy="629.40" r="1.6" fill="#c8102e"/>
<circle cx="397.10" cy="632.20" r="1.6" fill="#c8102e"/>
<circle cx="431.50" cy="600.20" r="1.6" fill="#1a4f8c"/>
<circle cx="431.50" cy="612.00" r="1.6" fill="#1a4f8c"/>
<circle cx="431.50" cy="616.30" r="1.6" fill="#1a4f8c"/>
<circle cx="464.00" cy="608.75" r="1.6" fill="#5b2c80"/>
<circle cx="464.00" cy="620.00" r="1.6" fill="#5b2c80"/>
<circle cx="464.00" cy="629.75" r="1.6" fill="#5b2c80"/>
<circle cx="496.25" cy="585.60" r="1.6" fill="#f7941d"/>
<circle cx="495.00" cy="588.10" r="1.6" fill="#f7941d"/>
<circle cx="496.25" cy="589.75" r="1.6" fill="#f7941d"/>
<line x1="399.2" y1="625.9" x2="399.2" y2="632.5" stroke="#231f20" stroke-width="1.0"/>
<line x1="394.09999999999997" y1="625.9" x2="404.3" y2="625.9" stroke="#231f20" stroke-width="1.0"/>
<line x1="394.09999999999997" y1="632.5" x2="404.3" y2="632.5" stroke="#231f20" stroke-width="1.0"/>
<line x1="431.5" y1="602.5" x2="431.5" y2="616.1" stroke="#231f20" stroke-width="1.0"/>
<line x1="426.2" y1="602.5" x2="436.8" y2="602.5" stroke="#231f20" stroke-width="1.0"/>
<line x1="426.2" y1="616.1" x2="436.8" y2="616.1" stroke="#231f20" stroke-width="1.0"/>
<line x1="464" y1="610.9" x2="464" y2="628.4" stroke="#231f20" stroke-width="1.0"/>
<line x1="458.7" y1="610.9" x2="469.3" y2="610.9" stroke="#231f20" stroke-width="1.0"/>
<line x1="458.7" y1="628.4" x2="469.3" y2="628.4" stroke="#231f20" stroke-width="1.0"/>
<line x1="496.25" y1="585" x2="496.25" y2="589.4" stroke="#231f20" stroke-width="1.0"/>
<line x1="491.25" y1="585" x2="501.25" y2="585" stroke="#231f20" stroke-width="1.0"/>
<line x1="491.25" y1="589.4" x2="501.25" y2="589.4" stroke="#231f20" stroke-width="1.0"/>
<line x1="390.2" y1="594.7" x2="431.7" y2="594.7" stroke="#555555" stroke-width="1.2"/>
<text x="398.8" y="591.2" font-size="8.5" textLength="24.2" lengthAdjust="spacingAndGlyphs">p=0.01</text>
<line x1="459.4" y1="577.9" x2="500.6" y2="577.9" stroke="#555555" stroke-width="1.2"/>
<text x="463.1" y="574.4" font-size="8.5" textLength="33.8" lengthAdjust="spacingAndGlyphs">p=0.0032</text>
<line x1="399.4" y1="647.8" x2="399.4" y2="651.0" stroke="#231f20" stroke-width="1.1"/>
<text x="367.2" y="659.4" font-size="9.0" textLength="33.2" lengthAdjust="spacingAndGlyphs" transform="rotate(-45 400.4 659.4)">SOD2 WT</text>
<line x1="431.5" y1="647.8" x2="431.5" y2="651.0" stroke="#231f20" stroke-width="1.1"/>
<text x="392.5" y="659.4" font-size="9.0" textLength="40" lengthAdjust="spacingAndGlyphs" transform="rotate(-45 432.5 659.4)">SOD2 V16A</text>
<line x1="464" y1="647.8" x2="464" y2="651.0" stroke="#231f20" stroke-width="1.1"/>
<text x="431.8" y="659.4" font-size="9.0" textLength="33.2" lengthAdjust="spacingAndGlyphs" transform="rotate(-45 465.0 659.4)">SOD2 WT</text>
<line x1="496.25" y1="647.8" x2="496.25" y2="651.0" stroke="#231f20" stroke-width="1.1"/>
<text x="457.25" y="659.4" font-size="9.0" textLength="40" lengthAdjust="spacingAndGlyphs" transform="rotate(-45 497.25 659.4)">SOD2 V16A</text>
<line x1="452.9" y1="690.8" x2="506.8" y2="690.8" stroke="#777" stroke-width="1.8"/>
<text x="466.9" y="699.8" font-size="7.8" textLength="20.2" lengthAdjust="spacingAndGlyphs">Ant A</text>
<text x="333.2" y="604.4" font-size="9.4" textLength="34" lengthAdjust="spacingAndGlyphs" transform="rotate(-90 350.2 604.4)">RFU/hours</text>
</g>
<!--/CHARTS-->
<!-- border -->
<rect x="0.5" y="0.5" width="519" height="706" fill="none" stroke="#000" stroke-width="1.3"/>
</svg>
</body></html>
